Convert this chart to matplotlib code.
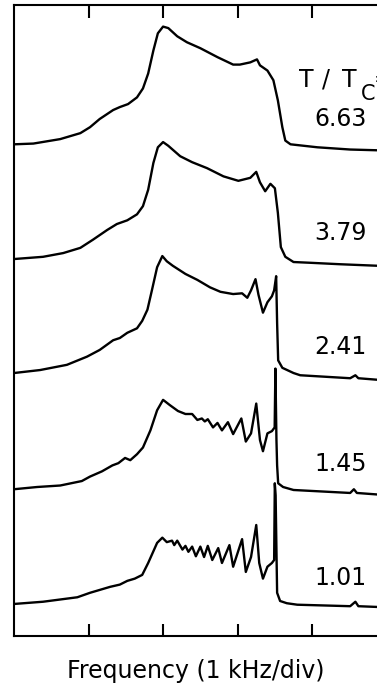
import matplotlib
matplotlib.use("Agg")
import matplotlib.pyplot as plt

plt.rcParams["font.family"] = ["DejaVu Sans"]

# frequency in kHz (1 div = 1 kHz), amplitude in arbitrary units above each trace's baseline
freq_663 = [0.00, 0.26, 0.62, 0.89, 1.02, 1.15, 1.33, 1.42, 1.53, 1.65, 1.73, 1.80, 1.87, 1.93, 2.00, 2.07,
            2.19, 2.32, 2.50, 2.73, 2.94, 3.03, 3.17, 3.26, 3.30, 3.40, 3.48, 3.54, 3.60, 3.64, 3.71, 4.07,
            4.51, 4.87]
amp_663 = [0.00, 0.01, 0.07, 0.15, 0.23, 0.34, 0.46, 0.50, 0.54, 0.63, 0.75, 0.95, 1.26, 1.49, 1.58, 1.56,
           1.45, 1.37, 1.29, 1.17, 1.07, 1.07, 1.10, 1.14, 1.06, 0.99, 0.86, 0.59, 0.23, 0.05, 0.00, -0.04,
           -0.07, -0.08]

freq_379 = [0.00, 0.39, 0.66, 0.89, 1.06, 1.25, 1.38, 1.52, 1.65, 1.73, 1.80, 1.87, 1.93, 2.00, 2.07, 2.23,
            2.39, 2.59, 2.81, 3.01, 3.17, 3.25, 3.30, 3.37, 3.44, 3.50, 3.54, 3.58, 3.64, 3.75, 3.97, 4.38,
            4.87]
amp_379 = [0.00, 0.03, 0.08, 0.15, 0.26, 0.39, 0.47, 0.52, 0.60, 0.71, 0.93, 1.29, 1.50, 1.57, 1.52, 1.38,
           1.30, 1.22, 1.11, 1.05, 1.09, 1.17, 1.03, 0.91, 1.01, 0.95, 0.62, 0.16, 0.03, -0.04, -0.05, -0.07,
           -0.09]

freq_241 = [0.00, 0.35, 0.71, 0.98, 1.15, 1.33, 1.42, 1.52, 1.65, 1.72, 1.79, 1.85, 1.92, 1.99, 2.05, 2.13,
            2.30, 2.46, 2.63, 2.77, 2.94, 3.06, 3.13, 3.18, 3.24, 3.28, 3.34, 3.40, 3.46, 3.49, 3.517, 3.53,
            3.544, 3.60, 3.75, 3.84, 4.51, 4.58, 4.62, 4.87]
amp_241 = [0.00, 0.04, 0.11, 0.22, 0.31, 0.44, 0.47, 0.54, 0.60, 0.70, 0.85, 1.11, 1.42, 1.57, 1.50, 1.44,
           1.33, 1.25, 1.15, 1.09, 1.06, 1.07, 1.01, 1.11, 1.26, 1.05, 0.81, 0.95, 1.03, 1.11, 1.30, 0.67,
           0.17, 0.07, 0.00, -0.03, -0.07, -0.03, -0.07, -0.09]

freq_145 = [0.00, 0.31, 0.62, 0.91, 1.02, 1.18, 1.32, 1.40, 1.49, 1.56, 1.65, 1.73, 1.83, 1.92, 2.00, 2.09,
            2.20, 2.30, 2.39, 2.46, 2.52, 2.56, 2.60, 2.67, 2.73, 2.79, 2.87, 2.94, 3.05, 3.11, 3.18, 3.25,
            3.30, 3.34, 3.40, 3.46, 3.497, 3.507, 3.521, 3.53, 3.544, 3.61, 3.75, 4.51, 4.56, 4.60, 4.87]
amp_145 = [0.00, 0.03, 0.05, 0.11, 0.17, 0.24, 0.32, 0.35, 0.42, 0.39, 0.47, 0.56, 0.79, 1.06, 1.20, 1.13,
           1.05, 1.01, 1.01, 0.93, 0.95, 0.91, 0.94, 0.83, 0.89, 0.79, 0.90, 0.74, 0.95, 0.64, 0.75, 1.15,
           0.66, 0.51, 0.75, 0.78, 0.83, 1.62, 0.66, 0.32, 0.08, 0.03, -0.01, -0.05, 0.00, -0.05, -0.07]

freq_101 = [0.00, 0.39, 0.85, 1.02, 1.29, 1.42, 1.52, 1.62, 1.72, 1.80, 1.92, 1.99, 2.05, 2.12, 2.15, 2.19,
            2.26, 2.30, 2.34, 2.39, 2.44, 2.50, 2.55, 2.60, 2.66, 2.74, 2.79, 2.89, 2.94, 3.06, 3.11, 3.18,
            3.25, 3.29, 3.34, 3.40, 3.46, 3.49, 3.499, 3.510, 3.523, 3.53, 3.57, 3.66, 3.80, 4.51, 4.58,
            4.62, 4.87]
amp_101 = [0.00, 0.03, 0.09, 0.15, 0.23, 0.26, 0.31, 0.34, 0.39, 0.55, 0.82, 0.89, 0.83, 0.85, 0.79, 0.85,
           0.73, 0.78, 0.70, 0.77, 0.64, 0.77, 0.63, 0.78, 0.59, 0.75, 0.55, 0.79, 0.50, 0.87, 0.43, 0.63,
           1.06, 0.55, 0.34, 0.50, 0.55, 0.59, 1.62, 1.46, 0.59, 0.15, 0.04, 0.01, -0.01, -0.03, 0.03,
           -0.03, -0.04]

temp_labels = ["6.63", "3.79", "2.41", "1.45", "1.01"]
offsets = [6.60, 5.06, 3.53, 1.97, 0.43]
traces = [(freq_663, amp_663), (freq_379, amp_379), (freq_241, amp_241),
          (freq_145, amp_145), (freq_101, amp_101)]

fig = plt.figure(figsize=(3.77, 6.87), dpi=100)
ax = fig.add_axes([14 / 377, 51 / 687, 363 / 377, 631 / 687])

for (f, a), off, lab in zip(traces, offsets, temp_labels):
    ax.plot(f, [v + off for v in a], color="black", lw=1.7,
            solid_joinstyle="round", solid_capstyle="round")
    ax.text(4.38, off + 0.25, lab, fontsize=17, ha="center", va="baseline")

# T/T_C= header, spaced out letter by letter; the "=" runs off the right edge
ax.text(3.92, 7.37, "T", fontsize=17, ha="center", va="baseline")
ax.text(4.19, 7.37, "/", fontsize=17, ha="center", va="baseline")
ax.text(4.50, 7.37, "T", fontsize=17, ha="center", va="baseline")
ax.text(4.75, 7.19, "C", fontsize=15, ha="center", va="baseline")
ax.text(4.82, 7.46, "=", fontsize=15, ha="left", va="center")

ax.set_xlim(0, 4.87)
ax.set_ylim(0, 8.47)
ax.set_xticks([1, 2, 3, 4])
ax.set_yticks([])
ax.tick_params(axis="x", direction="in", length=9, width=1.5, top=True,
               labelbottom=False, labeltop=False)
ax.spines["right"].set_visible(False)
for s in ["left", "top", "bottom"]:
    ax.spines[s].set_linewidth(1.5)

fig.text(196 / 377, 9 / 687, "Frequency (1 kHz/div)", fontsize=17, ha="center", va="baseline")

fig.savefig("out.png", dpi=100, facecolor="white")
